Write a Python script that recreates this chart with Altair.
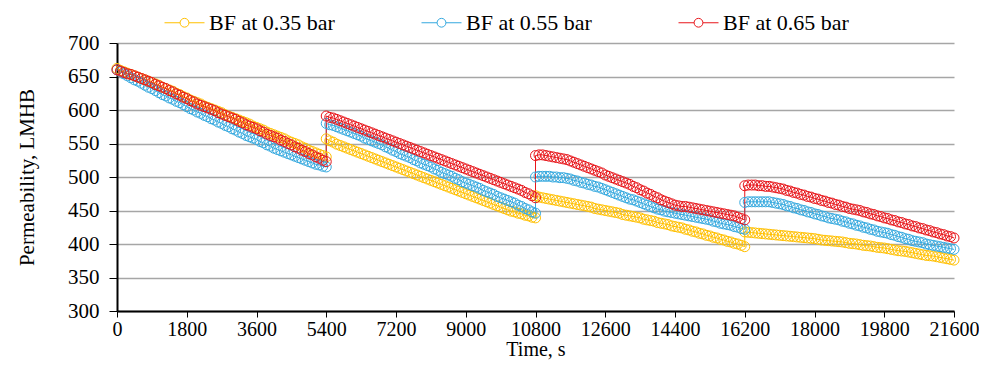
import altair as alt
import pandas as pd

series_names = ["BF at 0.35 bar", "BF at 0.55 bar", "BF at 0.65 bar"]
colors = ["#FFC000", "#35A9DF", "#E8161B"]
cycle_starts = [0, 5400, 10800, 16200]
cycle_length = 5400  # seconds per filtration cycle; readings evenly spaced (90 s)

# --- BF at 0.35 bar (yellow), one list per filtration cycle ---
y035_c1 = [662, 659, 657, 655, 653, 651, 649, 647, 645, 643, 641, 639, 637, 634, 632, 630,
           628, 625, 623, 620, 618, 615, 613, 611, 609, 606, 604, 602, 600, 598, 596, 593,
           591, 589, 587, 585, 583, 581, 579, 576, 574, 572, 570, 567, 565, 563, 561, 559,
           557, 554, 552, 550, 548, 545, 543, 540, 538, 536, 534, 532, 530]
y035_c2 = [557, 554, 552, 549, 547, 545, 543, 541, 539, 537, 535, 533, 531, 529, 527, 525,
           523, 521, 519, 517, 515, 513, 511, 509, 507, 505, 503, 501, 499, 497, 495, 493,
           491, 489, 487, 485, 483, 481, 479, 477, 475, 473, 471, 469, 467, 465, 463, 461,
           459, 457, 455, 453, 451, 449, 448, 446, 445, 443, 442, 440, 439]
y035_c3 = [472, 470, 469, 468, 467, 466, 465, 464, 463, 462, 461, 460, 459, 458, 457, 456,
           455, 453, 452, 451, 450, 449, 448, 447, 446, 444, 443, 442, 441, 440, 439, 437,
           436, 435, 434, 432, 431, 430, 429, 427, 426, 425, 424, 422, 421, 419, 418, 416,
           415, 413, 412, 410, 409, 407, 406, 404, 403, 401, 400, 398, 396]
y035_c4 = [418, 417.5, 417, 416.5, 416, 415.5, 415, 414.5, 414, 413.5, 413, 412.5, 412, 411.5,
           411, 410.5, 410, 409.5, 409, 408.5, 408, 407, 406, 405.5, 405, 404.5, 404, 403.5,
           403, 402, 401, 400.5, 400, 399, 398, 397.5, 397, 396, 395, 394.5, 394, 393, 392,
           391, 390, 389.5, 389, 388, 387, 386, 385, 384, 383, 382.5, 382, 381, 380, 379,
           378, 377, 376]

# --- BF at 0.55 bar (blue) ---
y055_c1 = [660, 657, 654, 651, 648, 645, 643, 640, 637, 634, 632, 629, 626, 623, 621, 618,
           616, 613, 611, 608, 605, 602, 600, 597, 595, 592, 590, 587, 585, 582, 580, 577,
           575, 572, 570, 567, 565, 562, 560, 558, 556, 553, 551, 548, 546, 543, 541, 539,
           537, 535, 533, 531, 529, 527, 525, 523, 521, 519, 518, 516, 515]
y055_c2 = [580, 578, 577, 575, 573, 571, 569, 567, 565, 563, 561, 558, 556, 554, 552, 550,
           548, 545, 543, 540, 538, 535, 533, 531, 529, 526, 524, 521, 519, 517, 515, 512,
           510, 507, 505, 503, 501, 498, 496, 493, 491, 489, 487, 485, 483, 480, 478, 476,
           474, 471, 469, 467, 465, 463, 461, 458, 456, 453, 451, 448, 446]
y055_c3 = [500, 501, 501, 501, 501, 500, 500, 499, 499, 498, 497, 495, 494, 492, 491, 489,
           488, 486, 485, 483, 481, 479, 477, 475, 473, 471, 469, 467, 466, 464, 462, 460,
           458, 456, 454, 452, 451, 449, 448, 447, 446, 445, 444, 443, 442, 441, 440, 439,
           438, 437, 436, 434, 433, 431, 430, 429, 428, 426, 425, 423, 422]
y055_c4 = [462, 463, 463, 463, 463, 463, 463, 463, 462, 461, 460, 459, 457, 456, 454, 453,
           451, 450, 448, 447, 445, 444, 442, 441, 439, 438, 437, 436, 434, 433, 431, 430,
           428, 427, 425, 424, 422, 421, 419, 418, 417, 416, 414, 413, 411, 410, 408, 407,
           405, 404, 403, 402, 400, 399, 398, 397, 396, 395, 394, 393, 392]

# --- BF at 0.65 bar (red) ---
y065_c1 = [660, 658, 656, 654, 653, 651, 649, 647, 645, 643, 641, 638, 636, 634, 632, 629,
           627, 624, 622, 619, 617, 614, 612, 609, 607, 605, 603, 601, 599, 596, 594, 592,
           590, 588, 586, 583, 581, 578, 576, 574, 572, 569, 567, 564, 562, 560, 558, 555,
           553, 550, 548, 545, 543, 540, 538, 535, 533, 530, 528, 525, 523]
y065_c2 = [591, 589, 588, 586, 584, 582, 580, 578, 576, 574, 572, 570, 568, 566, 564, 562,
           560, 558, 556, 554, 552, 550, 548, 546, 544, 542, 540, 538, 536, 534, 532, 530,
           528, 526, 524, 522, 520, 518, 516, 514, 512, 510, 508, 506, 504, 502, 500, 498,
           496, 494, 492, 490, 488, 486, 484, 482, 480, 477, 475, 472, 469]
y065_c3 = [532, 533, 533, 532, 531, 530, 529, 528, 527, 526, 524, 522, 520, 518, 516, 514,
           512, 510, 508, 506, 503, 501, 499, 497, 495, 493, 491, 489, 486, 484, 481, 479,
           476, 474, 471, 469, 466, 464, 462, 460, 458, 457, 456, 456, 455, 454, 453, 452,
           451, 450, 449, 448, 447, 446, 445, 444, 443, 442, 440, 438, 436]
y065_c4 = [487, 488, 488, 488, 487, 487, 486, 486, 485, 484, 483, 482, 480, 479, 477, 476,
           474, 473, 471, 470, 468, 467, 465, 464, 462, 461, 459, 458, 456, 455, 453, 452,
           451, 450, 448, 447, 445, 444, 442, 441, 439, 438, 436, 435, 433, 432, 430, 429,
           427, 426, 424, 423, 421, 420, 418, 417, 415, 414, 412, 411, 409]

x_ticks = [0, 1800, 3600, 5400, 7200, 9000, 10800, 12600, 14400, 16200, 18000, 19800, 21600]
y_ticks = [300, 350, 400, 450, 500, 550, 600, 650, 700]

all_series = [
    [y035_c1, y035_c2, y035_c3, y035_c4],
    [y055_c1, y055_c2, y055_c3, y055_c4],
    [y065_c1, y065_c2, y065_c3, y065_c4],
]

rows = []
for si, cycles in enumerate(all_series):
    n = 0
    for ci, vals in enumerate(cycles):
        dt = cycle_length / (len(vals) - 1)
        for i, v in enumerate(vals):
            rows.append({"series": series_names[si], "t": cycle_starts[ci] + i * dt,
                         "v": v, "ord": si * 10000 + n})
            n += 1
df = pd.DataFrame(rows)

FONT = "Liberation Serif"
legend_symbol = ("M-1,0L-0.22,0M0.22,0L1,0"
                 "M-0.22,0A0.22,0.22,0,1,1,0.22,0A0.22,0.22,0,1,1,-0.22,0")

chart = alt.Chart(df).mark_line(
    strokeWidth=1,
    point=alt.OverlayMarkDef(filled=False, size=100, strokeWidth=1, opacity=1),
).encode(
    x=alt.X("t:Q",
            scale=alt.Scale(domain=[0, 21600], nice=False, zero=False),
            axis=alt.Axis(values=x_ticks, title="Time, s", grid=False, format="d",
                          labelOverlap=False, labelFlush=False,
                          domainColor="black", domainWidth=2, tickColor="black",
                          tickSize=6, tickWidth=1, labelFont=FONT, labelFontSize=20,
                          labelColor="black", labelPadding=2, titleFont=FONT,
                          titleFontSize=20, titleFontWeight="normal", titleColor="black",
                          titlePadding=0)),
    y=alt.Y("v:Q",
            scale=alt.Scale(domain=[300, 700], nice=False, zero=False),
            axis=alt.Axis(values=y_ticks, title="Permeability, LMHB", grid=True,
                          gridColor="#A6A6A6", gridWidth=1.5,
                          domainColor="black", domainWidth=2, tickColor="black",
                          tickSize=8, tickWidth=1, labelFont=FONT, labelFontSize=21,
                          labelColor="black", labelPadding=10, titleFont=FONT,
                          titleFontSize=21, titleFontWeight="normal", titleColor="black",
                          titlePadding=30)),
    color=alt.Color("series:N",
                    scale=alt.Scale(domain=series_names, range=colors),
                    legend=alt.Legend(title=None, orient="none", legendX=47, legendY=-41,
                                      direction="horizontal", symbolType=legend_symbol,
                                      symbolSize=1600, symbolStrokeWidth=1,
                                      symbolFillColor="transparent",
                                      labelFont=FONT, labelFontSize=22, labelColor="black",
                                      labelOffset=4, columnPadding=84)),
    order=alt.Order("ord:Q"),
).properties(
    width=837,
    height=268,
    autosize=alt.AutoSizeParams(type="none"),
    padding={"left": 109, "top": 35, "right": 25, "bottom": 50},
    background="white",
).configure_view(strokeWidth=0)

chart.save("out.html", embed_options={"renderer": "svg", "actions": False})
